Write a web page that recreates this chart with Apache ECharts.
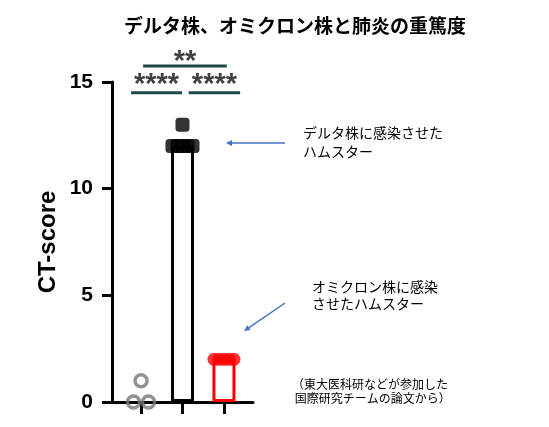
<!DOCTYPE html>
<html>
<head>
    <meta charset="utf-8" />
    <script src="https://cdn.jsdelivr.net/npm/echarts@6/dist/echarts.min.js"></script>
    <style>
        html, body { margin: 0; padding: 0; background: #fff; }
        #chart { width: 549px; height: 427px; }
    </style>
</head>
<body>
<div id="chart"></div>
<script type="text/javascript">
    // groups on the x axis (0, 1, 2)
    var groups = ['対照', 'デルタ株', 'オミクロン株'];
    // individual CT-scores per group
    var controlScores = [1, 0, 0];
    var deltaScores = [13, 12, 12, 12, 12, 12];
    var omicronScores = [2, 2, 2, 2, 2];
    // bar heights (group means as drawn)
    var barGroups = [1, 2];
    var barValues = [12, 2];
    // significance brackets: from group, to group, bracket level, star level, stars
    var brackets = [
        { from: 0, to: 1, level: 14.5, textLevel: 15.15, text: '****' },
        { from: 1, to: 2, level: 14.5, textLevel: 15.15, text: '****' },
        { from: 0, to: 2, level: 15.75, textLevel: 16.2, text: '**' }
    ];

    // spread repeated values sideways (pixels) like a dot plot
    function dotSeries(groupIndex, scores) {
        var counts = {};
        scores.forEach(function (v) { counts[v] = (counts[v] || 0) + 1; });
        var seen = {};
        return scores.map(function (v) {
            var n = counts[v];
            var k = seen[v] = (seen[v] === undefined ? 0 : seen[v] + 1);
            var w = Math.min((n - 1) * 15, 20);
            var off = n > 1 ? -w / 2 + k * w / (n - 1) : 0;
            return { value: [groupIndex, v], symbolOffset: [off, 0] };
        });
    }

    function bracketLine(b) {
        var l = b.from - (b.from === 0 ? 0.24 : -0.15);
        var r = b.to + (b.to === 2 ? 0.39 : -0.01);
        if (b.text === '**') { l = b.from + 0.05; r = b.to + 0.07; }
        return { l: l, r: r };
    }

    var bracketSeries = brackets.map(function (b) {
        var e = bracketLine(b);
        return {
            type: 'line',
            data: [[e.l, b.level], [e.r, b.level]],
            symbol: 'none',
            clip: false,
            silent: true,
            lineStyle: { color: '#1d4a4b', width: 3 },
            z: 5
        };
    });
    var starData = brackets.map(function (b) {
        var e = bracketLine(b);
        return { value: [(e.l + e.r) / 2, b.textLevel], label: { formatter: b.text } };
    });

    function arrow(x1, y1, x2, y2) {
        var a = Math.atan2(y2 - y1, x2 - x1), h = 6, s = 3;
        var bx = x2 - h * Math.cos(a), by = y2 - h * Math.sin(a);
        return [
            { type: 'line', shape: { x1: x1, y1: y1, x2: bx, y2: by },
              style: { stroke: '#4472c4', lineWidth: 1.5 } },
            { type: 'polygon', shape: { points: [[x2, y2],
                [bx + s * Math.sin(a), by - s * Math.cos(a)],
                [bx - s * Math.sin(a), by + s * Math.cos(a)]] },
              style: { fill: '#4472c4' } }
        ];
    }

    var cjk = '"Noto Sans CJK JP", "Noto Sans", sans-serif';
    var chart = echarts.init(document.getElementById('chart'));
    var option = {
        animation: false,
        title: {
            text: 'デルタ株、オミクロン株と肺炎の重篤度',
            left: 119,
            top: 11,
            textStyle: { fontFamily: cjk, fontSize: 19, fontWeight: 'bold', color: '#000' }
        },
        grid: { left: 112, top: 82, width: 141, height: 320 },
        xAxis: {
            type: 'value',
            min: -0.7,
            max: 2.7,
            axisLine: { onZero: false, lineStyle: { color: '#000', width: 3 } },
            axisTick: { show: true, customValues: [0, 1, 2], length: 12, lineStyle: { color: '#000', width: 3 } },
            axisLabel: { show: false },
            splitLine: { show: false }
        },
        yAxis: {
            type: 'value',
            min: 0,
            max: 15,
            interval: 5,
            name: 'CT-score',
            nameLocation: 'middle',
            nameRotate: 90,
            nameGap: 52,
            nameTextStyle: { fontFamily: 'Liberation Sans, Arial', fontSize: 24, fontWeight: 'bold', color: '#000' },
            axisLine: { show: true, onZero: false, lineStyle: { color: '#000', width: 3 } },
            axisTick: { show: true, length: 10, lineStyle: { color: '#000', width: 3 } },
            axisLabel: { margin: 19, fontFamily: 'Liberation Sans, Arial', fontSize: 21, fontWeight: 'bold', color: '#000' },
            splitLine: { show: false }
        },
        series: [
            {
                type: 'bar',
                barWidth: 23,
                data: barGroups.map(function (g, i) {
                    return {
                        value: [g, barValues[i]],
                        itemStyle: { color: '#fff', borderColor: g === 1 ? '#000' : '#ff0000', borderWidth: 3 }
                    };
                }),
                z: 2
            },
            {
                type: 'scatter',
                data: dotSeries(0, controlScores),
                symbol: 'circle',
                symbolSize: 12,
                clip: false,
                itemStyle: { color: 'rgba(255,255,255,0)', borderColor: '#777', borderWidth: 3.5 },
                z: 4
            },
            {
                type: 'scatter',
                data: dotSeries(1, deltaScores),
                symbol: 'roundRect',
                symbolSize: 14,
                itemStyle: { color: '#000' },
                z: 4
            },
            {
                type: 'scatter',
                data: dotSeries(2, omicronScores),
                symbol: 'circle',
                symbolSize: 13,
                itemStyle: { color: '#ff0000' },
                z: 4
            },
            {
                type: 'scatter',
                data: starData,
                symbolSize: 0,
                clip: false,
                silent: true,
                label: {
                    show: true,
                    position: 'inside',
                    offset: [0, 6],
                    fontFamily: 'Liberation Sans, Arial',
                    fontSize: 29,
                    fontWeight: 'bold',
                    color: '#111'
                }
            }
        ].concat(bracketSeries),
        graphic: [].concat(
            arrow(285, 143, 226, 143),
            arrow(285, 303, 244, 331),
            [
                { type: 'text', left: 303, top: 123,
                  style: { text: 'デルタ株に感染させた\nハムスター', fontFamily: cjk, fontSize: 14, lineHeight: 19, fill: '#000' } },
                { type: 'text', left: 312, top: 278,
                  style: { text: 'オミクロン株に感染\nさせたハムスター', fontFamily: cjk, fontSize: 14, lineHeight: 17, fill: '#000' } },
                { type: 'text', left: 292, top: 377,
                  style: { text: '（東大医科研などが参加した\n 国際研究チームの論文から）', fontFamily: cjk, fontSize: 12, lineHeight: 14, fill: '#000' } }
            ]
        )
    };
    chart.setOption(option);
</script>
</body>
</html>
